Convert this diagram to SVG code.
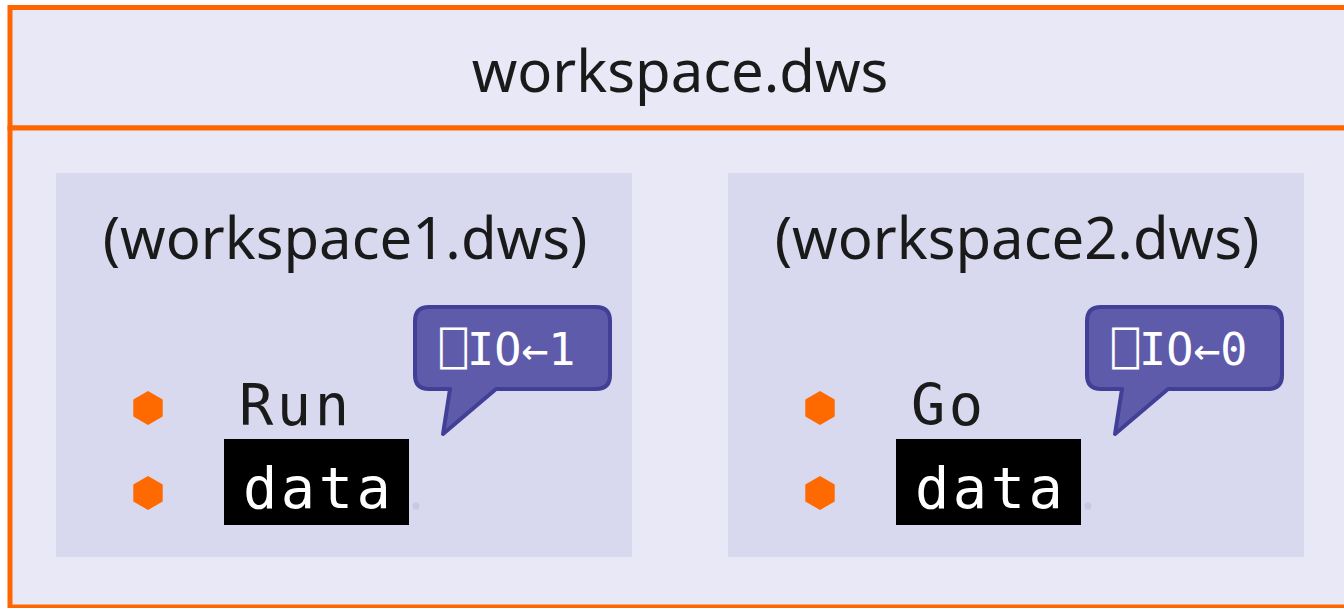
<svg xmlns="http://www.w3.org/2000/svg" width="1344" height="608" viewBox="0 0 1344 608">
  <style>
    .frame { fill: #e8e8f6; stroke: #ff6600; stroke-width: 5; }
    .ws { fill: #d8d8ef; }
    .title { font-family: "Noto Sans", "Open Sans", sans-serif; font-size: 58px; fill: #1a1a1a; text-anchor: middle; }
    .code { font-family: "DejaVu Sans Mono", "Liberation Mono", monospace; font-size: 57px; letter-spacing: 3.5px; }
    .name { fill: #1a1a1a; }
    .hl { fill: #000000; }
    .hltxt { fill: #ffffff; }
    .bullet { fill: #ff6a00; }
    .dot { fill: #c9c9e2; }
    .callout { fill: #5f5bab; stroke: #423f96; stroke-width: 4; stroke-linejoin: round; }
    .ctext { font-family: "DejaVu Sans Mono", "Liberation Mono", monospace; font-size: 45px; fill: #ffffff; }
  </style>
  <defs>
    <polygon id="hex" points="0,-17 14.7,-8.5 14.7,8.5 0,17 -14.7,8.5 -14.7,-8.5"/>
    <path id="bubble" d="M 429,307 H 596 Q 610,307 610,321 V 375 Q 610,389 596,389 H 496 L 443,434 L 450,389 H 429 Q 415,389 415,375 V 321 Q 415,307 429,307 Z"/>
  </defs>

  <!-- outer workspace frame with header band -->
  <g id="workspace">
    <rect class="frame" x="10" y="7.5" width="1340" height="120.5"/>
    <rect class="frame" x="10" y="128" width="1340" height="479"/>
    <text class="title" x="680" y="92">workspace.dws</text>
  </g>

  <!-- first nested workspace -->
  <g id="workspace1">
    <rect class="ws" x="56" y="173" width="576" height="384"/>
    <text class="title" x="345" y="259">(workspace1.dws)</text>
    <use href="#hex" class="bullet" x="148" y="408"/>
    <use href="#hex" class="bullet" x="148" y="493"/>
    <text class="code name" x="239" y="425">Run</text>
    <rect class="hl" x="224" y="439" width="185" height="86"/>
    <text class="code hltxt" x="243" y="508">data</text>
    <circle class="dot" cx="416" cy="506" r="3.5"/>
    <use href="#bubble" class="callout"/>
    <text class="ctext" x="440" y="365">⎕IO←1</text>
  </g>

  <!-- second nested workspace -->
  <g id="workspace2">
    <rect class="ws" x="728" y="173" width="576" height="384"/>
    <text class="title" x="1017" y="259">(workspace2.dws)</text>
    <use href="#hex" class="bullet" x="820" y="408"/>
    <use href="#hex" class="bullet" x="820" y="493"/>
    <text class="code name" x="911" y="425">Go</text>
    <rect class="hl" x="896" y="439" width="185" height="86"/>
    <text class="code hltxt" x="915" y="508">data</text>
    <circle class="dot" cx="1088" cy="506" r="3.5"/>
    <use href="#bubble" class="callout" transform="translate(672,0)"/>
    <text class="ctext" x="1112" y="365">⎕IO←0</text>
  </g>

  <g id="connectors"/>
</svg>
